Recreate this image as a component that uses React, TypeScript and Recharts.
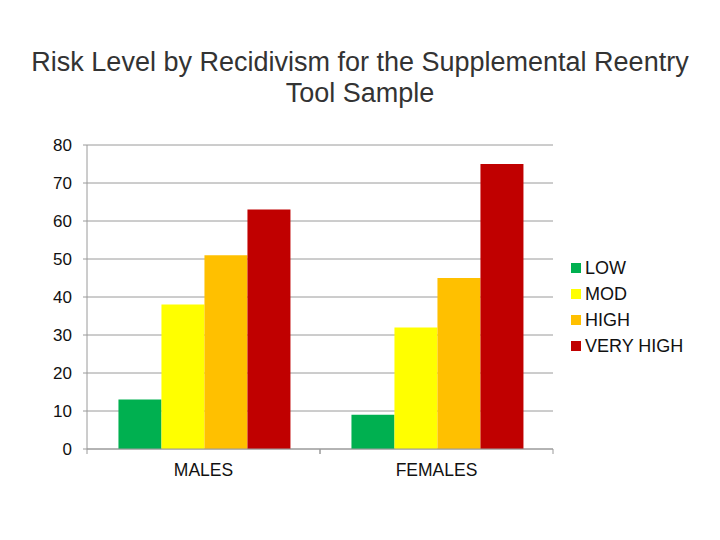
import React from 'react';
import { BarChart, Bar, XAxis, YAxis, CartesianGrid } from 'recharts';

const groups = ['MALES', 'FEMALES'];
const low = [13, 9];
const mod = [38, 32];
const high = [51, 45];
const veryHigh = [63, 75];
const yTicks = [0, 10, 20, 30, 40, 50, 60, 70, 80];

const seriesInfo = [
  { key: 'low', name: 'LOW', color: '#00B050' },
  { key: 'mod', name: 'MOD', color: '#FFFF00' },
  { key: 'high', name: 'HIGH', color: '#FFC000' },
  { key: 'veryHigh', name: 'VERY HIGH', color: '#C00000' },
];

const data = groups.map((g, i) => ({
  name: g,
  low: low[i],
  mod: mod[i],
  high: high[i],
  veryHigh: veryHigh[i],
}));

const font = 'Liberation Sans, Arial, sans-serif';
const axisGrey = '#9a9a9a';
const X_TICK_SIZE = 6;
const X_TICK_MARGIN = 9;

// category label plus the little marks at the group boundaries
const GroupTick = (props: any) => {
  const { x, y, payload } = props;
  const half = payload.offset || 0;
  const axisY = y - X_TICK_SIZE - X_TICK_MARGIN;
  return (
    <g>
      <line x1={x - half} x2={x - half} y1={axisY} y2={axisY + 5} stroke={axisGrey} />
      <line x1={x + half} x2={x + half} y1={axisY} y2={axisY + 5} stroke={axisGrey} />
      <text x={x} y={y} dy="0.71em" textAnchor="middle" fill="#111" fontSize={17.5}>
        {payload.value}
      </text>
    </g>
  );
};

const App = () => {
  return (
    <div style={{ position: 'absolute', left: 0, top: 0, width: 720, height: 540, background: '#fff' }}>
      <div
        style={{
          position: 'absolute',
          top: 47,
          left: 0,
          width: 720,
          textAlign: 'center',
          fontFamily: font,
          fontSize: 27,
          lineHeight: '31px',
          color: '#333',
        }}
      >
        Risk Level by Recidivism for the Supplemental Reentry
        <br />
        Tool Sample
      </div>
      <BarChart
        width={720}
        height={540}
        data={data}
        margin={{ top: 145, right: 167, left: 0, bottom: 0 }}
        barCategoryGap="13.5%"
        barGap={0}
        style={{ fontFamily: font }}
      >
        <CartesianGrid vertical={false} stroke={axisGrey} />
        <XAxis
          dataKey="name"
          tickLine={false}
          axisLine={{ stroke: axisGrey }}
          tick={<GroupTick />}
          tickSize={X_TICK_SIZE}
          tickMargin={X_TICK_MARGIN}
          height={91}
        />
        <YAxis
          domain={[0, 80]}
          ticks={yTicks}
          width={87}
          axisLine={{ stroke: axisGrey }}
          tickLine={{ stroke: axisGrey }}
          tickSize={4}
          tickMargin={11}
          tick={{ fill: '#111', fontSize: 17 }}
          interval={0}
        />
        {seriesInfo.map((s) => (
          <Bar key={s.key} dataKey={s.key} name={s.name} fill={s.color} isAnimationActive={false} />
        ))}
      </BarChart>
      <div style={{ position: 'absolute', left: 571, top: 255, fontFamily: font, fontSize: 18, color: '#111' }}>
        {seriesInfo.map((s) => (
          <div key={s.key} style={{ display: 'flex', alignItems: 'center', height: 26 }}>
            <span style={{ width: 10, height: 10, background: s.color, marginRight: 4, display: 'inline-block' }} />
            <span>{s.name}</span>
          </div>
        ))}
      </div>
    </div>
  );
};

export default App;
